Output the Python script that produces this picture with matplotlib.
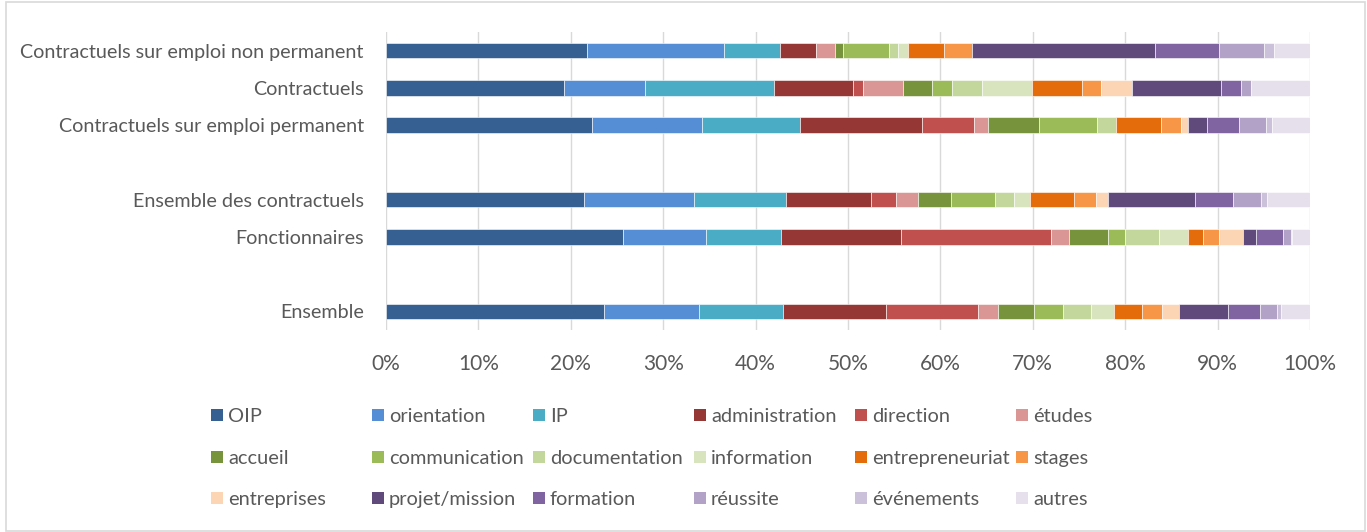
import matplotlib
matplotlib.use("Agg")
import matplotlib.pyplot as plt
from matplotlib.patches import Rectangle
import numpy as np

plt.rcParams['font.family'] = ['Lato', 'DejaVu Sans']

# Row labels, bottom to top; empty strings are spacer rows
categories = ["Ensemble", "", "Fonctionnaires", "Ensemble des contractuels", "",
              "Contractuels sur emploi permanent", "Contractuels",
              "Contractuels sur emploi non permanent"]

series_names = ["OIP", "orientation", "IP", "administration", "direction", "études",
                "accueil", "communication", "documentation", "information",
                "entrepreneuriat", "stages", "entreprises", "projet/mission",
                "formation", "réussite", "événements", "autres"]

# Share (%) of each activity, in series_names order
ensemble = [23.6, 10.3, 9.1, 11.1, 10.0, 2.1, 3.9, 3.2, 3.0, 2.5, 3.0, 2.2, 1.8, 5.3, 3.5, 1.8, 0.5, 3.1]
fonctionnaires = [25.6, 9.0, 8.1, 13.0, 16.3, 1.9, 4.2, 1.9, 3.7, 3.1, 1.6, 1.8, 2.5, 1.5, 2.9, 0.8, 0.2, 1.9]
ensemble_contractuels = [21.4, 11.9, 10.0, 9.2, 2.7, 2.4, 3.5, 4.8, 2.1, 1.7, 4.8, 2.3, 1.3, 9.5, 4.1, 3.0, 0.6, 4.7]
contractuels_permanent = [22.3, 11.9, 10.6, 13.2, 5.6, 1.5, 5.6, 6.2, 2.1, 0.0, 4.9, 2.1, 0.8, 2.1, 3.4, 2.9, 0.7, 4.1]
contractuels = [19.3, 8.7, 14.0, 8.5, 1.1, 4.3, 3.2, 2.2, 3.2, 5.4, 5.4, 2.1, 3.3, 9.7, 2.1, 1.1, 0.0, 6.4]
contractuels_non_permanent = [21.8, 14.8, 6.0, 3.9, 0.0, 2.1, 0.9, 4.9, 1.0, 1.1, 3.9, 3.0, 0.0, 19.8, 7.0, 4.8, 1.1, 3.9]

rows = [ensemble, None, fonctionnaires, ensemble_contractuels, None,
        contractuels_permanent, contractuels, contractuels_non_permanent]

colors = ["#376092", "#558ED5", "#4BACC6", "#953735", "#C0504D", "#D99694",
          "#77933C", "#9BBB59", "#C3D69B", "#D7E4BD", "#E46C0A", "#F79646",
          "#FCD5B5", "#604A7B", "#8064A2", "#B3A2C7", "#CCC1DA", "#E6E0EC"]

text_color = "#595959"
W, H = 1367, 532
fig = plt.figure(figsize=(W / 100, H / 100), dpi=100)
ax = fig.add_axes([386 / W, (H - 330) / H, (1310 - 386) / W, (330 - 32) / H])

# Build matrix: rows x series, zeros for spacer rows
data = np.array([r if r is not None else [0.0] * len(series_names) for r in rows])
y = np.arange(len(categories))
left = np.zeros(len(categories))
for j, name in enumerate(series_names):
    vals = data[:, j]
    edges = ["white" if v > 0 else "none" for v in vals]
    ax.barh(y, vals, left=left, height=0.41, color=colors[j],
            edgecolor=edges, linewidth=0.4, label=name, zorder=3)
    left += vals

ax.set_xlim(0, 100)
ax.set_ylim(-0.5, len(categories) - 0.5)
ax.set_xticks(np.arange(0, 101, 10))
ax.set_xticklabels([f"{v}%" for v in range(0, 101, 10)])
ax.set_yticks(y)
ax.set_yticklabels(categories)
ax.tick_params(axis='x', length=0, pad=17, labelsize=15, labelcolor=text_color)
ax.tick_params(axis='y', length=0, pad=16, labelsize=14.2, labelcolor=text_color)
ax.grid(axis='x', color="#D9D9D9", linewidth=1.0, zorder=0)
for s in ax.spines.values():
    s.set_visible(False)

# Legend laid out on a fixed grid of 6 columns
col_x = [211, 372, 533, 694, 855, 1016]
row_y = [415, 457, 498]
sq = 12
for k, name in enumerate(series_names):
    r, c = divmod(k, 6)
    x0, yc = col_x[c], row_y[r]
    fig.patches.append(Rectangle((x0 / W, (H - yc - sq / 2) / H), sq / W, sq / H,
                                 transform=fig.transFigure, facecolor=colors[k],
                                 edgecolor="none"))
    fig.text((x0 + sq + 5) / W, (H - yc) / H, name, ha="left", va="center_baseline",
             fontsize=14.4, color=text_color)

# Chart frame
fig.patches.append(Rectangle((6 / W, 1.5 / H), (1365 - 6) / W, (530 - 1.5) / H,
                             transform=fig.transFigure, facecolor="none",
                             edgecolor="#D9D9D9", linewidth=1.2))

fig.savefig("out.png", dpi=100)
